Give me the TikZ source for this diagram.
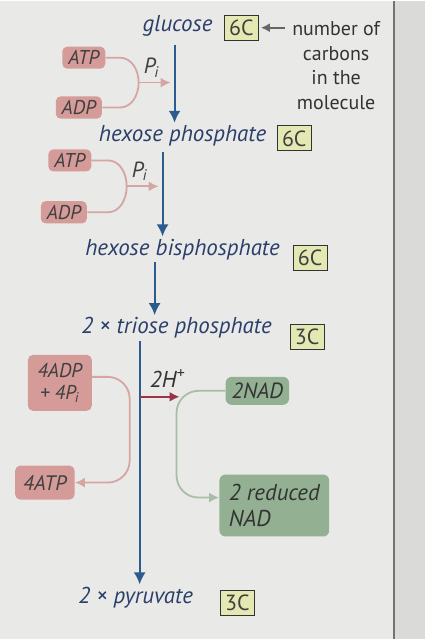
\documentclass[tikz,border=0pt]{standalone}
\usepackage{fontspec}
\setmainfont{PT Sans}
\usetikzlibrary{arrows.meta}

\definecolor{pagegrey}{HTML}{E9E9E7}
\definecolor{edgegrey}{HTML}{DADAD8}
\definecolor{labelblue}{HTML}{2B3F6B}
\definecolor{flowblue}{HTML}{2C5B8E}
\definecolor{rosefill}{HTML}{D59B99}
\definecolor{roseline}{HTML}{D4A5A3}
\definecolor{sagefill}{HTML}{93B092}
\definecolor{sageline}{HTML}{A9BDA8}
\definecolor{boxyellow}{HTML}{E4E9B3}
\definecolor{hred}{HTML}{9B3346}

\newcommand{\phos}{P\textsubscript{\kern-0.5pt i}}

\tikzset{
  mol/.style={text=labelblue, font=\fontsize{11.5}{13}\selectfont\itshape, inner sep=1pt},
  cbox/.style={draw=black!80, fill=boxyellow, line width=0.5pt, text=black!75,
    font=\fontsize{11}{11}\selectfont, inner sep=1pt, minimum width=17pt, minimum height=12.5pt},
  pinkbox/.style={fill=rosefill, rounded corners=2.5pt, text=black!75,
    font=\fontsize{10}{11}\selectfont\itshape, inner xsep=3pt, inner ysep=2pt, minimum height=10.5pt},
  greenbox/.style={fill=sagefill, rounded corners=3pt, text=black!80,
    font=\fontsize{11}{12.5}\selectfont\itshape, inner xsep=3pt, inner ysep=2.5pt, minimum height=14pt},
  plabel/.style={text=black!75, font=\fontsize{11}{11}\selectfont\itshape, inner sep=0pt},
  flow/.style={draw=flowblue, line width=1pt, -{Latex[length=6pt,width=6pt]}},
  pinkline/.style={draw=roseline, line width=0.9pt},
  pinkarrow/.style={draw=roseline, line width=0.9pt, -{Latex[length=5pt,width=5pt]}},
  greenarrow/.style={draw=sageline, line width=0.9pt, rounded corners=11pt, -{Latex[length=5pt,width=5pt]}},
  redarrow/.style={draw=hred, line width=1pt, -{Latex[length=5pt,width=5pt]}},
  pointer/.style={draw=black!60, line width=0.9pt, -{Latex[length=4.5pt,width=4.5pt]}, shorten >=1pt}
}

\begin{document}
\begin{tikzpicture}[x=0.5pt,y=-0.5pt]
  % page
  \fill[pagegrey] (0,0) rectangle (426,640);
  \fill[edgegrey] (395,0) rectangle (426,640);
  \draw[black!55, line width=0.8pt] (395,0) -- (395,640);
  \useasboundingbox (0,0) rectangle (426,640);

  % molecules along the pathway
  \node[mol] (glucose) at (178,25) {glucose};
  \node[cbox] (c1) at (242,27) {6C};
  \node[mol] (hexp) at (183,135) {hexose phosphate};
  \node[cbox] (c2) at (295,138) {6C};
  \node[mol] (hexbp) at (183,249) {hexose bisphosphate};
  \node[cbox] (c3) at (311,258) {6C};
  \node[mol] (triose) at (177,328) {2 × triose phosphate};
  \node[cbox] (c4) at (308,337) {3C};
  \node[mol] (pyr) at (136,598) {2 × pyruvate};
  \node[cbox] (c5) at (238,604) {3C};

  % note on the carbon boxes
  \node[align=center, text=black!80, font=\fontsize{10}{12.3}\selectfont] (ncarb) at (337,65)
    {number of\\carbons\\in the\\molecule};
  \draw[pointer] (c1.east -| ncarb.west) -- (c1.east);

  % columns of the blue arrows
  \coordinate (col1) at (175,0);
  \coordinate (col2) at (163,0);
  \coordinate (col3) at (155,0);
  \coordinate (col4) at (140,0);
  \draw[flow, shorten <=3pt] (glucose.south -| col1) -- (hexp.north -| col1);
  \draw[flow, shorten <=2pt] (hexp.south -| col2) -- (hexbp.north -| col2);
  \draw[flow] (hexbp.south -| col3) -- (triose.north -| col3);
  \draw[flow] (triose.south -| col4) -- (pyr.north -| col4);

  % first phosphorylation
  \node[pinkbox] (atp1) at (84,57) {ATP};
  \node[pinkbox] (adp1) at (79,107) {ADP};
  \coordinate (j1) at (139,82);
  \coordinate (k1) at (120,0);
  \coordinate (e1) at (171,82);
  \draw[pinkline] (atp1.east) -- (atp1.east -| k1) to[out=0,in=90] (j1)
    to[out=-90,in=0] (adp1.east -| k1) -- (adp1.east);
  \draw[pinkarrow] (j1) -- (e1);
  \node[plabel] (pi1) at (152,67) {\phos};

  % second phosphorylation
  \node[pinkbox] (atp2) at (70,160) {ATP};
  \node[pinkbox] (adp2) at (64,212) {ADP};
  \coordinate (j2) at (127,186);
  \coordinate (k2) at (108,0);
  \coordinate (e2) at (159,186);
  \draw[pinkline] (atp2.east) -- (atp2.east -| k2) to[out=0,in=90] (j2)
    to[out=-90,in=0] (adp2.east -| k2) -- (adp2.east);
  \draw[pinkarrow] (j2) -- (e2);
  \node[plabel] (pi2) at (140,171) {\phos};

  % ATP made
  \node[pinkbox, align=center, minimum width=32pt, minimum height=28pt] (adp4) at (60,383) {4ADP\\+ 4\phos};
  \node[pinkbox, font=\fontsize{10.5}{11}\selectfont\itshape, inner xsep=4pt, minimum height=17pt] (atp4) at (45,483) {4ATP};
  \coordinate (k3) at (130,483);
  \draw[pinkarrow, rounded corners=11pt] ([yshift=3pt]adp4.east) -| (k3) -- (atp4.east);

  % hydrogen to NAD
  \node[mol, text=black!80] (hplus) at (168,379) {2H\textsuperscript{+}};
  \coordinate (r0) at (140,397);
  \coordinate (r1) at (180,397);
  \draw[redarrow] (r0) -- (r1);
  \node[greenbox] (nad2) at (258,391) {2NAD};
  \node[greenbox, align=left, minimum width=55pt, minimum height=31pt, font=\fontsize{11.5}{13}\selectfont\itshape] (rnad) at (275,506)
    {2 reduced\\NAD};
  \coordinate (g1) at (177,498);
  \draw[greenarrow] (nad2.west) -| (g1) -- (rnad.west |- g1);
\end{tikzpicture}
\end{document}
